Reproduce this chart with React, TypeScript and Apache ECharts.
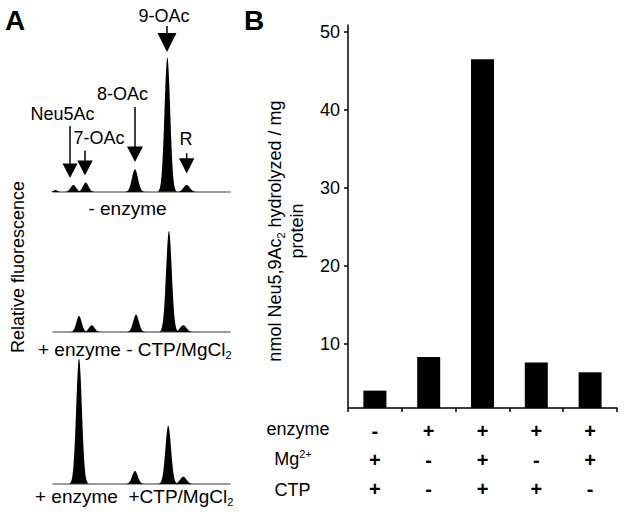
import React, { useEffect, useRef } from "react";
import * as echarts from "echarts";

// ---------- DATA ----------
// Chromatogram peaks: [retention position (0-100), relative fluorescence, peak width]
const peaksNoEnzyme = [
  [1.4, 2, 1.1],
  [11.5, 7, 1.6],
  [18.5, 9.4, 1.6],
  [46.3, 22.7, 1.7],
  [64.6, 134.7, 1.6],
  [75.5, 7, 1.8],
];
const peaksEnzymeNoCofactor = [
  [14.7, 16, 1.5],
  [21.9, 6.7, 1.6],
  [46.9, 17.4, 1.6],
  [65.5, 101, 1.6],
  [73.6, 6.7, 1.8],
];
const peaksEnzymeCofactor = [
  [14.7, 125.7, 1.6],
  [46.3, 13, 1.6],
  [65.1, 58.3, 1.6],
  [73.6, 7.3, 1.8],
];

const conditions = ["1", "2", "3", "4", "5"];
const hydrolyzed = [4.0, 8.3, 46.5, 7.6, 6.35];
const enzymeSigns = ["-", "+", "+", "+", "+"];
const mgSigns = ["+", "-", "+", "-", "+"];
const ctpSigns = ["+", "-", "+", "+", "-"];
const yTicks = [10, 20, 30, 40, 50];

// ---------- LAYOUT ----------
const FONT = "'Liberation Sans', Arial, Helvetica, sans-serif";
const chromBaselines = [192, 332, 484];
const chromHeight = 140;
const arrows = [
  { x: 70, top: 126, headTop: 163.5, tip: 178, hw: 7.5 },
  { x: 85, top: 150.5, headTop: 160.5, tip: 175.5, hw: 7.7 },
  { x: 135, top: 107, headTop: 146.5, tip: 162, hw: 8 },
  { x: 167, top: 26, headTop: 33, tip: 52, hw: 9.5 },
  { x: 186.7, top: 153.3, headTop: 158.3, tip: 173.5, hw: 7.7 },
];
const peakLabels = [
  { text: "9-OAc", x: 164, y: 15.5 },
  { text: "8-OAc", x: 122.5, y: 93.5 },
  { text: "Neu5Ac", x: 62.5, y: 113.5 },
  { text: "7-OAc", x: 99, y: 138 },
  { text: "R", x: 186, y: 138.5 },
];

function peakRenderItem(params: any, api: any) {
  const c = api.value(0);
  const h = api.value(1);
  const s = api.value(2);
  const pts: number[][] = [];
  for (let i = -36; i <= 36; i++) {
    const t = i / 10;
    pts.push(api.coord([c + t * s, h * Math.exp(-0.5 * t * t)]));
  }
  return {
    type: "polygon",
    shape: { points: pts },
    style: { fill: "#000" },
  };
}

function signAxis(signs: string[], margin: number) {
  return {
    type: "category",
    gridIndex: 3,
    position: "bottom",
    data: conditions,
    axisLine: { show: false },
    axisTick: { show: false },
    splitLine: { show: false },
    axisLabel: {
      interval: 0,
      margin,
      verticalAlign: "middle",
      fontSize: 20,
      fontWeight: "bold",
      fontFamily: FONT,
      color: "#000",
      formatter: (_v: string, i: number) => signs[i],
    },
  };
}

const subRich = {
  a: { fontSize: 18, fontFamily: FONT, fill: "#000", color: "#000", lineHeight: 22 },
  b: { fontSize: 19, fontFamily: FONT, fill: "#000", color: "#000", lineHeight: 22 },
  s: { fontSize: 11, fontFamily: FONT, fill: "#000", color: "#000", lineHeight: 12, verticalAlign: "bottom" },
  p: { fontSize: 11, fontFamily: FONT, fill: "#000", color: "#000", lineHeight: 12, verticalAlign: "top" },
};

function txt(text: string, x: number, y: number, extra: any = {}) {
  return {
    type: "text",
    x,
    y,
    silent: true,
    style: {
      text,
      fontSize: 18,
      fontFamily: FONT,
      fill: "#000",
      align: "center",
      verticalAlign: "middle",
      ...extra,
    },
  };
}

export default function App() {
  const ref = useRef<HTMLDivElement>(null);
  useEffect(() => {
    if (!ref.current) return;
    const chart = echarts.init(ref.current, undefined, { renderer: "svg" });
    const chromSets = [peaksNoEnzyme, peaksEnzymeNoCofactor, peaksEnzymeCofactor];

    const graphic: any[] = [];
    arrows.forEach((a) => {
      graphic.push({
        type: "line",
        silent: true,
        shape: { x1: a.x, y1: a.top, x2: a.x, y2: a.headTop + 1 },
        style: { stroke: "#000", lineWidth: 1.5 },
      });
      graphic.push({
        type: "polygon",
        silent: true,
        shape: { points: [[a.x - a.hw, a.headTop], [a.x + a.hw, a.headTop], [a.x, a.tip]] },
        style: { fill: "#000" },
      });
    });
    peakLabels.forEach((l) => graphic.push(txt(l.text, l.x, l.y)));
    graphic.push(txt("- enzyme", 127.5, 208, { fontSize: 19 }));
    graphic.push(
      txt("", 38, 349.5, {
        align: "left",
        text: "{b|+ enzyme - CTP/MgCl}{s|2}",
        rich: subRich,
      })
    );
    graphic.push(
      txt("", 35, 496, {
        align: "left",
        text: "{b|+ enzyme  +CTP/MgCl}{s|2}",
        rich: subRich,
      })
    );
    graphic.push({ ...txt("Relative fluorescence", 18, 267), rotation: Math.PI / 2 });
    graphic.push(txt("A", 15, 20, { fontSize: 28, fontWeight: "bold" }));
    graphic.push(txt("B", 254, 20, { fontSize: 28, fontWeight: "bold" }));
    graphic.push({
      ...txt("", 286, 231, {
        text: "{a|nmol Neu5,9Ac}{s|2}{a| hydrolyzed / mg}\n{a|protein}",
        rich: subRich,
      }),
      rotation: Math.PI / 2,
    });
    graphic.push(txt("enzyme", 298, 429));
    graphic.push(txt("", 293, 459, { text: "{a|Mg}{p|2+}", rich: subRich }));
    graphic.push(txt("CTP", 292.5, 490));

    const option: any = {
      animation: false,
      backgroundColor: "#fff",
      textStyle: { fontFamily: FONT },
      grid: [
        ...chromBaselines.map((b) => ({ left: 53, top: b - chromHeight, width: 177, height: chromHeight })),
        { left: 348, top: 25, right: 8, bottom: 108 },
      ],
      xAxis: [
        ...[0, 1, 2].map((i) => ({
          type: "value",
          gridIndex: i,
          min: 0,
          max: 100,
          axisLine: { show: true, onZero: false, lineStyle: { color: "#7a7a7a", width: 1.5 } },
          axisTick: { show: false },
          axisLabel: { show: false },
          splitLine: { show: false },
        })),
        {
          type: "category",
          gridIndex: 3,
          position: "bottom",
          data: conditions,
          axisLine: { lineStyle: { color: "#000", width: 1.5 } },
          axisTick: { show: true, length: 4, lineStyle: { color: "#000", width: 1.5 } },
          axisLabel: { show: false },
          splitLine: { show: false },
        },
        signAxis(enzymeSigns, 23),
        signAxis(mgSigns, 52),
        signAxis(ctpSigns, 80.5),
      ],
      yAxis: [
        ...[0, 1, 2].map((i) => ({
          type: "value",
          gridIndex: i,
          min: 0,
          max: chromHeight,
          show: false,
          splitLine: { show: false },
        })),
        {
          type: "value",
          gridIndex: 3,
          min: 1.77,
          max: 50.9,
          axisLine: { show: true, lineStyle: { color: "#000", width: 1.5 } },
          axisTick: { show: true, length: 4, customValues: yTicks, lineStyle: { color: "#000", width: 1.5 } },
          axisLabel: { customValues: yTicks, fontSize: 18, color: "#000", margin: 8, fontFamily: FONT },
          splitLine: { show: false },
        },
      ],
      series: [
        ...chromSets.map((d, i) => ({
          type: "custom",
          xAxisIndex: i,
          yAxisIndex: i,
          data: d,
          encode: { x: 0, y: 1 },
          renderItem: peakRenderItem,
          silent: true,
        })),
        {
          type: "bar",
          xAxisIndex: 3,
          yAxisIndex: 3,
          data: hydrolyzed,
          barWidth: 23,
          itemStyle: { color: "#000" },
          silent: true,
        },
      ],
      graphic,
    };
    chart.setOption(option);
    return () => chart.dispose();
  }, []);
  return (
    <div
      ref={ref}
      style={{ position: "fixed", left: 0, top: 0, width: 625, height: 516, background: "#fff" }}
    />
  );
}
